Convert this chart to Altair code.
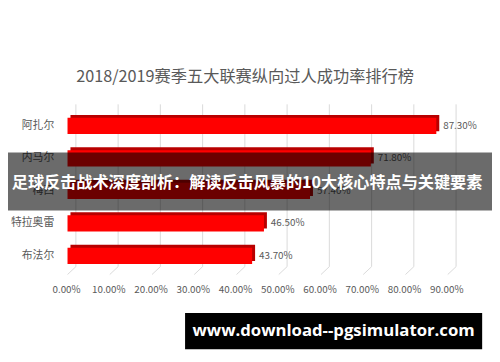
import altair as alt
import pandas as pd

# ---- data ----
players = ["阿扎尔", "内马尔", "梅西", "特拉奥雷", "布法尔"]
rates = [0.873, 0.718, 0.574, 0.465, 0.437]
ticks = [0.0, 0.1, 0.2, 0.3, 0.4, 0.5, 0.6, 0.7, 0.8, 0.9]
title_text = "2018/2019赛季五大联赛纵向过人成功率排行榜"
banner_text = "足球反击战术深度剖析：解读反击风暴的10大核心特点与关键要素"
watermark_text = "www.download--pgsimulator.com"

bars_df = pd.DataFrame({"player": players, "rate": rates})
ticks_df = pd.DataFrame({"tick": ticks})

FONT = "Noto Sans CJK SC"
GRAY = "#595959"

xs = alt.Scale(domain=[0, 0.9], range=[60.5, 447], nice=False)
ys = alt.Scale(domain=players, range=[100.5, 265.5], paddingInner=0.5, paddingOuter=0.25)

X_rate = alt.X("rate:Q", scale=xs, axis=None)
Y_player = alt.Y("player:N", scale=ys, axis=None, sort=players)

# back gridlines (3D offset)
grid = alt.Chart(ticks_df).mark_rule(color="#d9d9d9", strokeWidth=1, xOffset=8.5).encode(
    x=alt.X("tick:Q", scale=xs, axis=None),
    y=alt.value(95),
    y2=alt.value(260),
)
# floor slant lines
floor = alt.Chart(ticks_df).mark_rule(color="#d9d9d9", strokeWidth=1, x2Offset=8.5).encode(
    x=alt.X("tick:Q", scale=xs, axis=None),
    x2="tick:Q",
    y=alt.value(268),
    y2=alt.value(260),
)
tick_labels = alt.Chart(ticks_df).mark_text(
    font=FONT, fontSize=10, color=GRAY, align="center", baseline="middle", dx=-1
).encode(
    x=alt.X("tick:Q", scale=xs, axis=None),
    y=alt.value(284),
    text=alt.Text("tick:Q", format=".2%"),
)

# 3D bars: darker extrusion behind, bright face in front
bar_back = alt.Chart(bars_df).mark_bar(color="#b80000", xOffset=3, yOffset=-3).encode(
    x=X_rate, y=Y_player
)
bar_front = alt.Chart(bars_df).mark_bar(color="#ff0000").encode(x=X_rate, y=Y_player)

value_labels = alt.Chart(bars_df).mark_text(
    font=FONT, fontSize=10, color=GRAY, align="left", baseline="middle", dx=7
).encode(
    x=X_rate, y=Y_player, text=alt.Text("rate:Q", format=".2%")
)

cat_labels = alt.Chart(bars_df).mark_text(
    font=FONT, fontSize=11, color=GRAY, align="right", baseline="middle"
).encode(
    x=alt.value(47), y=Y_player, text="player:N"
)

title = alt.Chart(pd.DataFrame({"t": [title_text]})).mark_text(
    font=FONT, fontSize=16.5, color=GRAY, align="center", baseline="middle"
).encode(x=alt.value(241), y=alt.value(67), text="t:N")

banner_df = pd.DataFrame({"t": [banner_text]})
banner = alt.Chart(banner_df).mark_rect(color="#000000", opacity=0.58).encode(
    x=alt.value(0), x2=alt.value(492), y=alt.value(144), y2=alt.value(203)
)
banner_txt = alt.Chart(banner_df).mark_text(
    font=FONT, fontSize=16.4, fontWeight="bold", color="white", align="center", baseline="middle"
).encode(x=alt.value(243), y=alt.value(175), text="t:N")

wm_df = pd.DataFrame({"t": [watermark_text]})
wm_rect = alt.Chart(wm_df).mark_rect(color="#000000").encode(
    x=alt.value(180), x2=alt.value(482), y=alt.value(307), y2=alt.value(344)
)
wm_txt = alt.Chart(wm_df).mark_text(
    font="Open Sans", fontSize=17, fontWeight="bold", color="white", align="center", baseline="middle"
).encode(x=alt.value(331), y=alt.value(325), text="t:N")

chart = alt.layer(
    grid, floor, tick_labels, bar_back, bar_front, value_labels, cat_labels, title,
    banner, banner_txt, wm_rect, wm_txt
).properties(
    width=492, height=354, padding=0,
    autosize=alt.AutoSizeParams(type="none"),
    background="white",
).configure_view(stroke=None)

chart.save("out.html", embed_options={"renderer": "svg", "actions": False})
